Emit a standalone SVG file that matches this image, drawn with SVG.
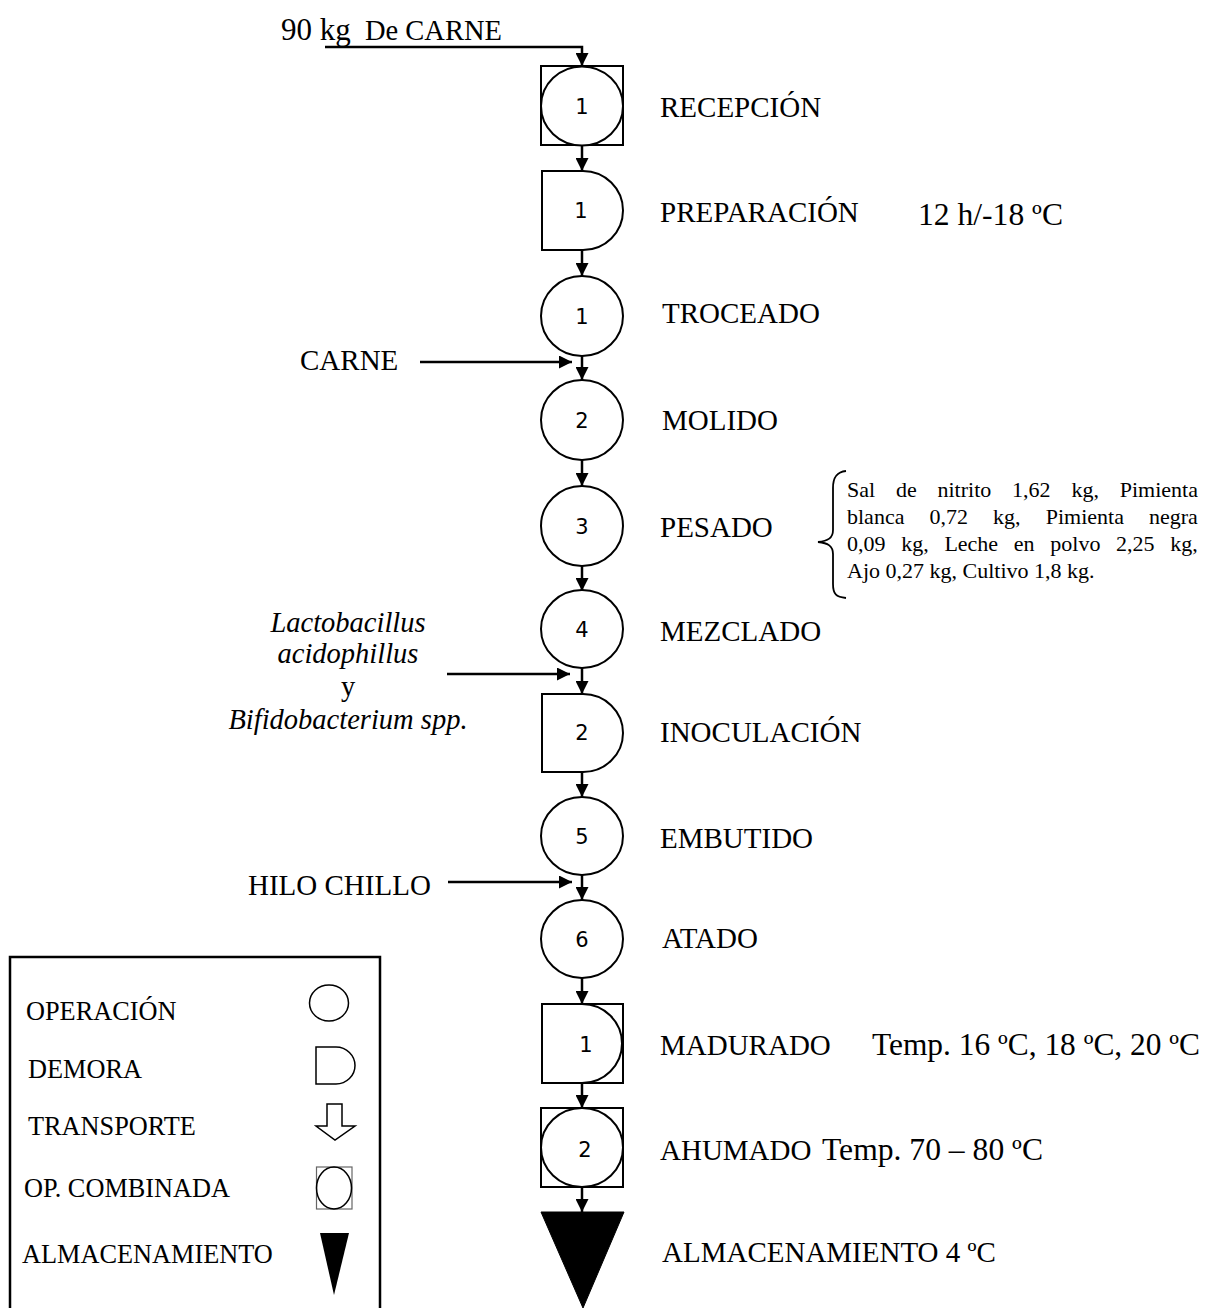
<svg xmlns="http://www.w3.org/2000/svg" width="1206" height="1308" viewBox="0 0 1206 1308">
<style>
.s{fill:#fff;stroke:#000;stroke-width:2}
.n{font-family:"DejaVu Sans",sans-serif;font-size:21px;text-anchor:middle;fill:#000}
.t{font-family:"Liberation Serif",serif;font-size:29px;fill:#000}
.lg{font-family:"Liberation Serif",serif;font-size:26.3px;fill:#000}
.sm{font-family:"Liberation Serif",serif;font-size:22px;fill:#000}
.it{font-family:"Liberation Serif",serif;font-size:28.5px;font-style:italic;text-anchor:middle;fill:#000}
.c{fill:none;stroke:#000;stroke-width:2.5}
</style>
<defs>
<marker id="ah" viewBox="0 0 12 12" refX="12" refY="6" markerWidth="13" markerHeight="13" markerUnits="userSpaceOnUse" orient="auto">
<path d="M0,0 L12,6 L0,12 z" fill="#000"/>
</marker>
</defs>
<rect width="1206" height="1308" fill="#fff"/>

<g id="connectors">
<path class="c" d="M325,47 H582 V66" marker-end="url(#ah)"/>
<line class="c" x1="582" y1="145" x2="582" y2="171" marker-end="url(#ah)"/>
<line class="c" x1="582" y1="250" x2="582" y2="276" marker-end="url(#ah)"/>
<line class="c" x1="582" y1="356" x2="582" y2="380" marker-end="url(#ah)"/>
<line class="c" x1="420" y1="362" x2="572" y2="362" marker-end="url(#ah)"/>
<line class="c" x1="582" y1="460" x2="582" y2="486" marker-end="url(#ah)"/>
<line class="c" x1="582" y1="566" x2="582" y2="591" marker-end="url(#ah)"/>
<line class="c" x1="582" y1="668" x2="582" y2="694" marker-end="url(#ah)"/>
<line class="c" x1="447" y1="674" x2="570" y2="674" marker-end="url(#ah)"/>
<line class="c" x1="582" y1="772" x2="582" y2="797" marker-end="url(#ah)"/>
<line class="c" x1="582" y1="875" x2="582" y2="900" marker-end="url(#ah)"/>
<line class="c" x1="448" y1="882" x2="572" y2="882" marker-end="url(#ah)"/>
<line class="c" x1="582" y1="978" x2="582" y2="1004" marker-end="url(#ah)"/>
<line class="c" x1="582" y1="1083" x2="582" y2="1108" marker-end="url(#ah)"/>
<line class="c" x1="582" y1="1187" x2="582" y2="1212" marker-end="url(#ah)"/>
</g>

<g id="input-top">
<text class="t" x="281" y="40" style="font-size:31px">90 kg</text>
<text class="t" x="365" y="40" style="font-size:28.5px">De CARNE</text>
</g>

<g id="recepcion">
<rect class="s" x="541" y="66" width="82" height="79"/>
<ellipse class="s" cx="582" cy="106" rx="41" ry="39.5"/>
<text class="n" x="582" y="114">1</text>
<text class="t" x="660" y="117">RECEPCIÓN</text>
</g>

<g id="preparacion">
<path class="s" d="M542,171 H583 A40,39.5 0 0 1 583,250 H542 Z"/>
<text class="n" x="581" y="218">1</text>
<text class="t" x="660" y="222">PREPARACIÓN</text>
<text class="t" x="918" y="225" style="font-size:31px" textLength="145" lengthAdjust="spacingAndGlyphs">12 h/-18 ºC</text>
</g>

<g id="troceado">
<ellipse class="s" cx="582" cy="316" rx="41" ry="40"/>
<text class="n" x="582" y="324">1</text>
<text class="t" x="662" y="323">TROCEADO</text>
</g>

<g id="input-carne">
<text class="t" x="300" y="370">CARNE</text>
</g>

<g id="molido">
<ellipse class="s" cx="582" cy="420" rx="41" ry="40"/>
<text class="n" x="582" y="428">2</text>
<text class="t" x="662" y="430">MOLIDO</text>
</g>

<g id="pesado">
<ellipse class="s" cx="582" cy="526" rx="41" ry="40"/>
<text class="n" x="582" y="534">3</text>
<text class="t" x="660" y="537">PESADO</text>
</g>

<g id="ingredientes">
<path d="M846,471 C836,472 833,478 833,488 V530 C833,538 828,541 818,542 C828,543 833,546 833,554 V584 C833,594 836,597 846,598" fill="none" stroke="#000" stroke-width="1.8"/>
<text class="sm" y="497"><tspan x="847">Sal</tspan><tspan x="895.9">de</tspan><tspan x="937.5">nitrito</tspan><tspan x="1012.1">1,62</tspan><tspan x="1071.4">kg,</tspan><tspan x="1119.7">Pimienta</tspan></text>
<text class="sm" y="524"><tspan x="847">blanca</tspan><tspan x="929.5">0,72</tspan><tspan x="993.1">kg,</tspan><tspan x="1045.7">Pimienta</tspan><tspan x="1149">negra</tspan></text>
<text class="sm" y="551"><tspan x="847">0,09</tspan><tspan x="901.2">kg,</tspan><tspan x="944.4">Leche</tspan><tspan x="1013.8">en</tspan><tspan x="1050.3">polvo</tspan><tspan x="1116.1">2,25</tspan><tspan x="1170.3">kg,</tspan></text>
<text class="sm" x="847" y="578">Ajo 0,27 kg, Cultivo 1,8 kg.</text>
</g>

<g id="mezclado">
<ellipse class="s" cx="582" cy="629" rx="41" ry="39"/>
<text class="n" x="582" y="637">4</text>
<text class="t" x="660" y="641">MEZCLADO</text>
</g>

<g id="input-cultivo">
<text class="it" x="348" y="632">Lactobacillus</text>
<text class="it" x="348" y="663">acidophillus</text>
<text class="it" x="348" y="696" style="font-style:normal">y</text>
<text class="it" x="348" y="729">Bifidobacterium spp.</text>
</g>

<g id="inoculacion">
<path class="s" d="M542,694 H583 A40,39 0 0 1 583,772 H542 Z"/>
<text class="n" x="582" y="740">2</text>
<text class="t" x="660" y="742">INOCULACIÓN</text>
</g>

<g id="embutido">
<ellipse class="s" cx="582" cy="836" rx="41" ry="39"/>
<text class="n" x="582" y="844">5</text>
<text class="t" x="660" y="848">EMBUTIDO</text>
</g>

<g id="input-hilo">
<text class="t" x="248" y="895">HILO CHILLO</text>
</g>

<g id="atado">
<ellipse class="s" cx="582" cy="939" rx="41" ry="39"/>
<text class="n" x="582" y="947">6</text>
<text class="t" x="662" y="948">ATADO</text>
</g>

<g id="madurado">
<rect class="s" x="542" y="1004" width="81" height="79"/>
<path d="M582,1004 A40,39.5 0 0 1 582,1083" fill="none" stroke="#000" stroke-width="2"/>
<text class="n" x="586" y="1052">1</text>
<text class="t" x="660" y="1055">MADURADO</text>
<text class="t" x="872" y="1055" style="font-size:31px" textLength="328" lengthAdjust="spacingAndGlyphs">Temp. 16 ºC, 18 ºC, 20 ºC</text>
</g>

<g id="ahumado">
<rect class="s" x="541" y="1108" width="82" height="79"/>
<ellipse class="s" cx="582" cy="1147.5" rx="41" ry="39.5"/>
<text class="n" x="585" y="1157">2</text>
<text class="t" x="660" y="1160">AHUMADO</text>
<text class="t" x="822" y="1160" style="font-size:31px" textLength="221" lengthAdjust="spacingAndGlyphs">Temp. 70 – 80 ºC</text>
</g>

<g id="almacenamiento">
<polygon points="541,1212 624,1212 583,1308" fill="#000" stroke="#000" stroke-width="1"/>
<text class="t" x="662" y="1262">ALMACENAMIENTO 4 ºC</text>
</g>

<g id="legend">
<path d="M10,1310 V957 H380 V1310" fill="none" stroke="#000" stroke-width="2.5"/>
<text class="lg" x="26" y="1020">OPERACIÓN</text>
<ellipse cx="329" cy="1003" rx="19.5" ry="18" fill="#fff" stroke="#000" stroke-width="1.5"/>
<text class="lg" x="28" y="1078">DEMORA</text>
<path d="M316,1047 H336 A19,18.5 0 0 1 336,1084 H316 Z" fill="#fff" stroke="#000" stroke-width="1.5"/>
<text class="lg" x="28" y="1135">TRANSPORTE</text>
<path d="M327,1104 H342 V1126 H355 L335,1140 L316,1126 H327 Z" fill="#fff" stroke="#000" stroke-width="1.5"/>
<text class="lg" x="24" y="1197">OP. COMBINADA</text>
<rect x="316.5" y="1167" width="35.5" height="42" fill="#fff" stroke="#666" stroke-width="1.2"/>
<ellipse cx="334" cy="1188" rx="17.5" ry="21" fill="none" stroke="#000" stroke-width="1.5"/>
<text class="lg" x="22" y="1263">ALMACENAMIENTO</text>
<polygon points="320,1233 349,1233 334,1295" fill="#000"/>
</g>
</svg>
